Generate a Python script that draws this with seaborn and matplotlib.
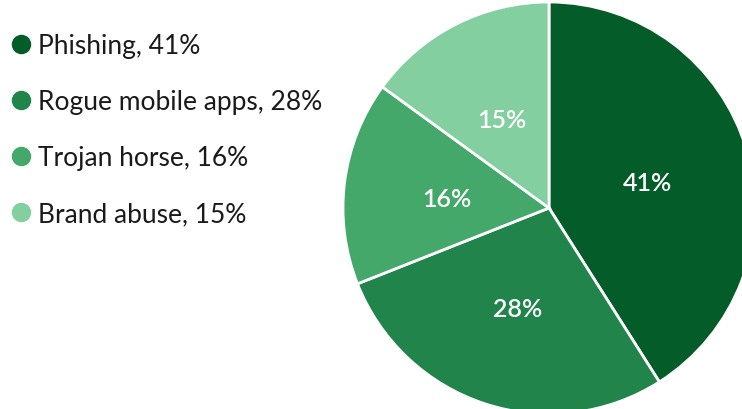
import matplotlib
matplotlib.use("Agg")
import matplotlib.pyplot as plt
import matplotlib.transforms as mtransforms
from matplotlib.lines import Line2D
import seaborn as sns

categories = ["Phishing", "Rogue mobile apps", "Trojan horse", "Brand abuse"]
values = [41, 28, 16, 15]
colors = ["#045C28", "#21844A", "#45A86B", "#84CFA0"]

sns.set_theme(style="white")
plt.rcParams["font.family"] = ["Lato", "DejaVu Sans"]

W, H = 742, 410
fig = plt.figure(figsize=(W / 100, H / 100), dpi=100)
ax = fig.add_axes([0, 0, 1, 1])

cx, cy, R = 549, 209, 206  # pixel center (from top) and radius
wedges, texts = ax.pie(
    values, colors=colors, startangle=90, counterclock=False,
    labels=[f"{v}%" for v in values], labeldistance=0.5,
    wedgeprops=dict(edgecolor="white", linewidth=2),
    textprops=dict(color="white", fontsize=18, fontweight="semibold"),
)
for t in texts:
    t.set_ha("center")
    t.set_va("center")
    t.set_transform(mtransforms.offset_copy(t.get_transform(), fig=fig, x=0, y=-3, units="dots"))

ax.set_aspect("auto")
ax.set_xlim(-cx / R, (W - cx) / R)
ax.set_ylim(-(H - cy) / R, cy / R)
ax.axis("off")

handles = [Line2D([0], [0], marker="o", linestyle="", markersize=13,
                  markerfacecolor=c, markeredgecolor=c) for c in colors]
labels = [f"{c}, {v}%" for c, v in zip(categories, values)]
leg = fig.legend(handles, labels, loc="upper left", bbox_to_anchor=(0.0074, 0.937),
                 frameon=False, fontsize=19, handlelength=0.58, handletextpad=0.365,
                 labelspacing=1.18, borderpad=0.3, borderaxespad=0)
for t in leg.get_texts():
    t.set_color("#1a1a1a")

fig.savefig("out.png", dpi=100)
